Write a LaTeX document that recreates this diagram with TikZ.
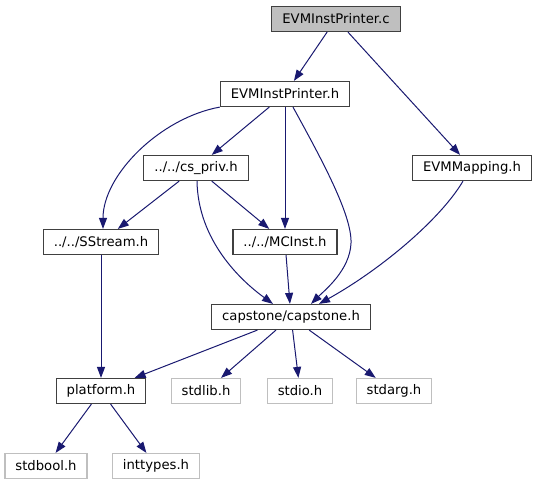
\documentclass[tikz,border=0pt]{standalone}
\usepackage{fontspec}
\setmainfont{DejaVu Sans}
\usetikzlibrary{arrows.meta}
\definecolor{edgeblue}{HTML}{191970}
\definecolor{rootfill}{HTML}{BFBFBF}
\definecolor{boxline}{HTML}{404040}
\definecolor{sysline}{HTML}{BFBFBF}
\tikzset{
  file/.style={draw=boxline, line width=1.2pt, inner xsep=10.5pt, minimum height=25pt,
    font=\fontsize{13.2}{15}\selectfont},
  sysfile/.style={file, draw=sysline},
  root/.style={file, fill=rootfill},
  incl/.style={draw=edgeblue, line width=1pt, -{Triangle[length=11pt,width=8pt]}}
}
\begin{document}
\begin{tikzpicture}[x=1pt, y=-1pt]
      \useasboundingbox (0,0) rectangle (537,485);
      \draw
        (336,19) node[root] (c){EVMInstPrinter.c}
        (285,94) node[file] (h){EVMInstPrinter.h}
        (196,168) node[file] (priv){../../cs\_priv.h}
        (472,168) node[file] (map){EVMMapping.h}
        (101,242) node[file] (sstream){../../SStream.h}
        (285,242) node[file] (mcinst){../../MCInst.h}
        (291,317) node[file] (cap){capstone/capstone.h}
        (101,391) node[file] (plat){platform.h}
        (206,391) node[sysfile] (stdlib){stdlib.h}
        (300,391) node[sysfile] (stdio){stdio.h}
        (394,391) node[sysfile] (stdarg){stdarg.h}
        (46,466) node[sysfile] (stdbool){stdbool.h}
        (156,466) node[sysfile] (inttypes){inttypes.h};
      \begin{scope}[incl]
        \draw (c) to (h);
        \draw (c) to (map);
        \draw (h) to (priv);
        \draw (h.south west) .. controls (160,118) and (103,175) .. ([xshift=2pt]sstream.north);
        \draw (h.south) to (mcinst.north);
        \draw ([xshift=8pt]h.south) .. controls (322,160) and (352,215) .. (351,243)
          .. controls (350,270) and (325,290) .. ([xshift=20pt]cap.north);
        \draw (priv) to (sstream);
        \draw (priv) to (mcinst);
        \draw ([xshift=1pt]priv.south) .. controls (198,240) and (240,280) .. ([xshift=-18pt]cap.north);
        \draw ([xshift=-9pt]map.south) .. controls (440,220) and (380,270) .. ([xshift=28pt]cap.north);
        \draw (sstream) to (plat);
        \draw (mcinst) to (cap);
        \draw (cap) to (plat);
        \draw (cap) to (stdlib);
        \draw (cap) to (stdio);
        \draw (cap) to (stdarg);
        \draw (plat) to (stdbool);
        \draw (plat) to (inttypes);
      \end{scope}
    \end{tikzpicture}
\end{document}
